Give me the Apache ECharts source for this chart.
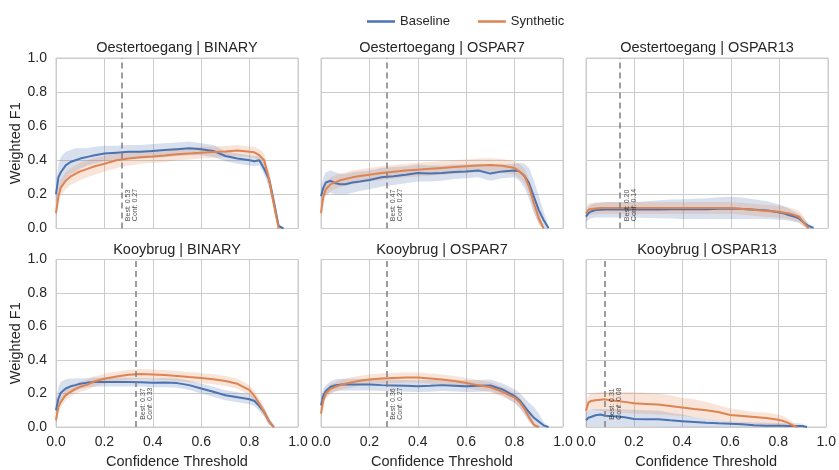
<!DOCTYPE html>
<html><head><meta charset="utf-8">
<script src="https://cdn.jsdelivr.net/npm/echarts@6/dist/echarts.min.js"></script>
<style>html,body{margin:0;padding:0;background:#fff}#c{width:839px;height:470px}</style>
</head><body><div id="c"></div>
<script>
// ---------------- DATA ----------------
const thresholds = [0, .01, .02, .04, .06, .08, .1, .13, .16, .2, .25, .3, .35, .4, .45, .5, .55, .6, .65, .7, .75, .8, .82, .84, .86, .88, .9, .92, .94, .96, 1];
const xTicks = [0, 0.2, 0.4, 0.6, 0.8, 1.0];
const yTicks = [0, 0.2, 0.4, 0.6, 0.8, 1.0];
const panelTitles = ['Oestertoegang | BINARY', 'Oestertoegang | OSPAR7', 'Oestertoegang | OSPAR13',
                     'Kooybrug | BINARY', 'Kooybrug | OSPAR7', 'Kooybrug | OSPAR13'];
const bestF1 = [0.53, 0.47, 0.20, 0.37, 0.36, 0.31];
const bestConf = [0.27, 0.27, 0.14, 0.33, 0.27, 0.08];
const seriesNames = ['Baseline', 'Synthetic'];

// Panel 1: Oestertoegang | BINARY
const p1BaseMean = [0.20,0.30,0.33,0.37,0.39,0.40,0.41,0.42,0.43,0.44,0.445,0.45,0.45,0.455,0.46,0.465,0.47,0.465,0.455,0.425,0.41,0.40,0.395,0.40,0.35,0.29,0.16,0.015,0,null,null];
const p1BaseLo   = [0.14,0.22,0.24,0.29,0.32,0.33,0.35,0.37,0.38,0.395,0.405,0.41,0.41,0.415,0.42,0.425,0.43,0.43,0.42,0.395,0.38,0.37,0.365,0.37,0.315,0.25,0.12,0,0,null,null];
const p1BaseHi   = [0.26,0.38,0.42,0.45,0.46,0.47,0.47,0.47,0.48,0.485,0.485,0.49,0.49,0.495,0.50,0.505,0.51,0.50,0.49,0.455,0.44,0.43,0.425,0.43,0.385,0.33,0.20,0.03,0,null,null];
const p1SynMean  = [0.09,0.19,0.24,0.28,0.305,0.32,0.335,0.35,0.365,0.38,0.40,0.41,0.418,0.422,0.428,0.435,0.44,0.445,0.448,0.452,0.458,0.45,0.447,0.43,0.40,0.29,0.145,0,null,null,null];
const p1SynLo    = [0.06,0.14,0.19,0.23,0.255,0.27,0.285,0.30,0.315,0.335,0.355,0.37,0.38,0.385,0.39,0.40,0.405,0.41,0.415,0.42,0.425,0.42,0.415,0.395,0.36,0.24,0.10,0,null,null,null];
const p1SynHi    = [0.12,0.24,0.29,0.33,0.355,0.37,0.385,0.40,0.415,0.425,0.445,0.45,0.456,0.46,0.466,0.47,0.475,0.48,0.481,0.484,0.49,0.48,0.479,0.465,0.44,0.34,0.19,0,null,null,null];

// Panel 2: Oestertoegang | OSPAR7
const p2BaseMean = [0.19,0.24,0.27,0.28,0.265,0.26,0.26,0.27,0.275,0.284,0.30,0.307,0.315,0.325,0.323,0.325,0.332,0.335,0.34,0.322,0.335,0.34,0.335,0.31,0.265,0.186,0.108,0.05,0.003,null,null];
const p2BaseLo   = [0.13,0.18,0.20,0.21,0.20,0.20,0.20,0.21,0.22,0.23,0.245,0.255,0.265,0.275,0.275,0.28,0.29,0.295,0.30,0.28,0.295,0.30,0.28,0.24,0.175,0.09,0.03,0,0,null,null];
const p2BaseHi   = [0.25,0.30,0.33,0.34,0.33,0.32,0.32,0.33,0.335,0.34,0.355,0.36,0.365,0.375,0.37,0.37,0.375,0.375,0.38,0.365,0.375,0.38,0.385,0.38,0.355,0.28,0.19,0.10,0.01,null,null];
const p2SynMean  = [0.09,0.19,0.23,0.26,0.272,0.283,0.29,0.30,0.308,0.315,0.325,0.333,0.34,0.345,0.35,0.355,0.36,0.365,0.37,0.372,0.368,0.355,0.335,0.31,0.245,0.147,0.06,0,null,null,null];
const p2SynLo    = [0.05,0.15,0.19,0.22,0.232,0.243,0.25,0.26,0.268,0.275,0.285,0.293,0.30,0.305,0.31,0.315,0.32,0.325,0.33,0.332,0.328,0.315,0.295,0.265,0.20,0.10,0.02,0,null,null,null];
const p2SynHi    = [0.13,0.23,0.27,0.30,0.312,0.323,0.33,0.34,0.348,0.355,0.365,0.373,0.38,0.385,0.39,0.395,0.40,0.405,0.41,0.412,0.408,0.395,0.375,0.355,0.29,0.19,0.10,0,null,null,null];

// Panel 3: Oestertoegang | OSPAR13
const p3BaseMean = [0.07,0.09,0.10,0.108,0.11,0.112,0.112,0.112,0.112,0.112,0.112,0.112,0.113,0.113,0.113,0.113,0.116,0.118,0.115,0.11,0.105,0.094,0.088,0.078,0.07,0.059,0.035,0.015,0.004,null,null];
const p3BaseLo   = [0.04,0.05,0.06,0.065,0.065,0.065,0.065,0.065,0.065,0.065,0.062,0.06,0.058,0.056,0.055,0.055,0.055,0.055,0.055,0.055,0.055,0.05,0.05,0.045,0.04,0.035,0.015,0,0,null,null];
const p3BaseHi   = [0.10,0.13,0.14,0.15,0.15,0.155,0.155,0.155,0.155,0.155,0.16,0.165,0.17,0.172,0.175,0.178,0.183,0.186,0.18,0.17,0.16,0.14,0.13,0.115,0.10,0.085,0.06,0.03,0.01,null,null];
const p3SynMean  = [0.088,0.11,0.115,0.118,0.12,0.12,0.12,0.12,0.12,0.12,0.12,0.12,0.12,0.12,0.12,0.12,0.12,0.12,0.115,0.108,0.103,0.098,0.093,0.088,0.08,0.069,0.035,0,null,null,null];
const p3SynLo    = [0.053,0.075,0.08,0.083,0.085,0.085,0.085,0.085,0.085,0.085,0.085,0.085,0.085,0.085,0.085,0.085,0.085,0.085,0.08,0.073,0.068,0.063,0.058,0.053,0.045,0.034,0.01,0,null,null,null];
const p3SynHi    = [0.123,0.145,0.15,0.153,0.155,0.155,0.155,0.155,0.155,0.155,0.155,0.155,0.155,0.155,0.155,0.155,0.155,0.155,0.15,0.143,0.138,0.133,0.128,0.123,0.115,0.104,0.07,0,null,null,null];

// Panel 4: Kooybrug | BINARY
const p4BaseMean = [0.10,0.17,0.205,0.23,0.243,0.25,0.258,0.265,0.268,0.269,0.268,0.268,0.267,0.264,0.265,0.262,0.25,0.23,0.21,0.19,0.178,0.166,0.155,0.125,0.09,0.035,0,null,null,null,null];
const p4BaseLo   = [0.04,0.11,0.15,0.18,0.20,0.215,0.228,0.238,0.24,0.242,0.242,0.242,0.242,0.238,0.238,0.235,0.222,0.20,0.18,0.16,0.148,0.136,0.125,0.095,0.065,0.015,0,null,null,null,null];
const p4BaseHi   = [0.16,0.24,0.27,0.285,0.29,0.29,0.29,0.292,0.295,0.296,0.295,0.294,0.293,0.29,0.292,0.29,0.278,0.26,0.24,0.22,0.208,0.196,0.185,0.155,0.115,0.055,0,null,null,null,null];
const p4SynMean  = [0.04,0.12,0.15,0.19,0.21,0.228,0.24,0.253,0.273,0.288,0.302,0.312,0.316,0.314,0.311,0.305,0.298,0.292,0.285,0.275,0.258,0.22,0.185,0.14,0.09,0.035,0,null,null,null,null];
const p4SynLo    = [0.02,0.09,0.12,0.16,0.18,0.198,0.21,0.223,0.243,0.258,0.272,0.282,0.286,0.284,0.281,0.275,0.268,0.262,0.255,0.245,0.228,0.19,0.155,0.11,0.06,0.01,0,null,null,null,null];
const p4SynHi    = [0.07,0.15,0.18,0.22,0.24,0.258,0.27,0.283,0.303,0.318,0.332,0.342,0.346,0.344,0.341,0.335,0.328,0.322,0.315,0.305,0.288,0.25,0.215,0.17,0.12,0.06,0,null,null,null,null];

// Panel 5: Kooybrug | OSPAR7
const p5BaseMean = [0.13,0.19,0.215,0.24,0.25,0.253,0.253,0.253,0.253,0.253,0.25,0.248,0.246,0.244,0.246,0.25,0.247,0.244,0.246,0.248,0.224,0.185,0.16,0.125,0.088,0.055,0.032,0.01,0,null,null];
const p5BaseLo   = [0.08,0.15,0.18,0.205,0.215,0.218,0.218,0.218,0.218,0.218,0.215,0.213,0.211,0.209,0.211,0.215,0.212,0.209,0.211,0.213,0.19,0.145,0.115,0.075,0.035,0.005,0,0,0,null,null];
const p5BaseHi   = [0.18,0.23,0.25,0.275,0.285,0.288,0.288,0.288,0.288,0.288,0.285,0.283,0.281,0.279,0.281,0.285,0.282,0.279,0.281,0.283,0.26,0.225,0.205,0.175,0.145,0.12,0.08,0.03,0,null,null];
const p5SynMean  = [0.08,0.16,0.20,0.228,0.24,0.25,0.258,0.268,0.276,0.283,0.289,0.292,0.295,0.296,0.29,0.284,0.274,0.263,0.25,0.237,0.21,0.175,0.15,0.11,0.058,0.012,0,null,null,null,null];
const p5SynLo    = [0.05,0.13,0.17,0.198,0.21,0.22,0.228,0.238,0.246,0.253,0.259,0.262,0.265,0.266,0.26,0.254,0.244,0.233,0.22,0.207,0.18,0.145,0.12,0.08,0.03,0,0,null,null,null,null];
const p5SynHi    = [0.11,0.19,0.23,0.258,0.27,0.28,0.288,0.298,0.306,0.313,0.319,0.322,0.325,0.326,0.32,0.314,0.304,0.293,0.28,0.267,0.24,0.205,0.18,0.14,0.088,0.03,0,null,null,null,null];

// Panel 6: Kooybrug | OSPAR13
const p6BaseMean = [0.04,0.055,0.06,0.07,0.075,0.067,0.065,0.062,0.058,0.048,0.047,0.046,0.04,0.035,0.03,0.025,0.022,0.02,0.017,0.01,0.008,0.007,0.007,0.006,0.006,0.006,0.006,0,null,null,null];
const p6BaseLo   = [0,0.005,0.005,0.005,0.005,0.005,0.005,0.005,0.004,0.003,0.003,0.003,0.002,0.002,0.002,0.002,0.001,0.001,0.001,0,0,0,0,0,0,0,0,0,null,null,null];
const p6BaseHi   = [0.08,0.10,0.105,0.107,0.107,0.107,0.107,0.106,0.105,0.103,0.10,0.098,0.085,0.075,0.06,0.05,0.04,0.033,0.03,0.027,0.025,0.024,0.023,0.023,0.023,0.022,0.02,0,null,null,null];
const p6SynMean  = [0.097,0.146,0.155,0.16,0.163,0.165,0.16,0.155,0.15,0.142,0.138,0.134,0.126,0.117,0.108,0.10,0.09,0.072,0.066,0.06,0.054,0.043,0.036,0.026,0.01,0,null,null,null,null,null];
const p6SynLo    = [0.06,0.10,0.105,0.10,0.095,0.092,0.09,0.088,0.085,0.08,0.078,0.075,0.07,0.065,0.06,0.05,0.04,0.03,0.025,0.02,0.015,0.01,0.008,0.005,0,0,null,null,null,null,null];
const p6SynHi    = [0.14,0.19,0.20,0.205,0.208,0.21,0.21,0.21,0.21,0.208,0.205,0.20,0.19,0.175,0.165,0.15,0.13,0.11,0.10,0.09,0.085,0.075,0.065,0.05,0.03,0,null,null,null,null,null];

// ---------------- BUILD ----------------
const panelData = [
  [[p1BaseMean,p1BaseLo,p1BaseHi],[p1SynMean,p1SynLo,p1SynHi]],
  [[p2BaseMean,p2BaseLo,p2BaseHi],[p2SynMean,p2SynLo,p2SynHi]],
  [[p3BaseMean,p3BaseLo,p3BaseHi],[p3SynMean,p3SynLo,p3SynHi]],
  [[p4BaseMean,p4BaseLo,p4BaseHi],[p4SynMean,p4SynLo,p4SynHi]],
  [[p5BaseMean,p5BaseLo,p5BaseHi],[p5SynMean,p5SynLo,p5SynHi]],
  [[p6BaseMean,p6BaseLo,p6BaseHi],[p6SynMean,p6SynLo,p6SynHi]]
];
const colors = ['#4c72b0', '#dd8452'];
const bandColors = ['rgba(76,114,176,0.22)', 'rgba(221,132,82,0.22)'];
const FONT = 'Liberation Sans, Arial, sans-serif';
const TXT = '#262626';
const GRID_C = '#cccccc';

const colLeft = [56, 321, 586];
const rowTop = [58, 259.5];
const W = 242, H = 170.5;

function bandRenderer(lo, hi, fill) {
  return function (params, api) {
    const pts = [];
    for (let i = 0; i < thresholds.length; i++) if (hi[i] != null) pts.push(api.coord([thresholds[i], hi[i]]));
    for (let i = thresholds.length - 1; i >= 0; i--) if (lo[i] != null) pts.push(api.coord([thresholds[i], lo[i]]));
    return {type: 'polygon', shape: {points: pts}, style: {fill: fill, stroke: 'none'}, silent: true};
  };
}

const grids = [], xAxes = [], yAxes = [], series = [], graphics = [];
for (let p = 0; p < 6; p++) {
  const r = Math.floor(p / 3), c = p % 3;
  grids.push({left: colLeft[c], top: rowTop[r], width: W, height: H, show: true,
              borderColor: GRID_C, borderWidth: 1, backgroundColor: 'transparent'});
  xAxes.push({type: 'value', gridIndex: p, min: 0, max: 1, interval: 0.2,
    axisLine: {show: false}, axisTick: {show: false},
    splitLine: {show: true, lineStyle: {color: GRID_C, width: 1}},
    axisLabel: {show: r === 1, color: TXT, fontSize: 14, fontFamily: FONT, margin: 8,
                showMinLabel: true, showMaxLabel: true, formatter: v => v.toFixed(1)},
    name: r === 1 ? 'Confidence Threshold' : '', nameLocation: 'middle', nameGap: 27,
    nameTextStyle: {color: TXT, fontSize: 14.5, fontFamily: FONT}});
  yAxes.push({type: 'value', gridIndex: p, min: 0, max: 1, interval: 0.2,
    axisLine: {show: false}, axisTick: {show: false},
    splitLine: {show: true, lineStyle: {color: GRID_C, width: 1}},
    axisLabel: {show: c === 0, color: TXT, fontSize: 14, fontFamily: FONT, margin: 9,
                formatter: v => v.toFixed(1)},
    name: c === 0 ? 'Weighted F1' : '', nameLocation: 'middle', nameGap: 31,
    nameTextStyle: {color: TXT, fontSize: 14.5, fontFamily: FONT}});
  graphics.push({type: 'text', x: colLeft[c] + W / 2, y: rowTop[r] - 10,
    style: {text: panelTitles[p], fill: TXT, font: '14.5px ' + FONT, textAlign: 'center', textVerticalAlign: 'middle'}});

  for (let s = 0; s < 2; s++) {
    const [mean, lo, hi] = panelData[p][s];
    series.push({type: 'custom', name: 'band', xAxisIndex: p, yAxisIndex: p,
      data: [[0, 0]], renderItem: bandRenderer(lo, hi, bandColors[s]), silent: true, z: 1});
  }
  for (let s = 0; s < 2; s++) {
    const mean = panelData[p][s][0];
    series.push({type: 'line', name: seriesNames[s], xAxisIndex: p, yAxisIndex: p,
      data: thresholds.map((x, i) => mean[i] == null ? null : [x, mean[i]]).filter(d => d),
      symbol: 'none', color: colors[s],
      lineStyle: {color: colors[s], width: 2}, z: 3 + s});
  }
  // best threshold marker + annotation
  series.push({type: 'scatter', name: 'best', xAxisIndex: p, yAxisIndex: p,
    data: [[bestConf[p], 0.04]], symbolSize: 1, itemStyle: {color: 'rgba(0,0,0,0)'}, z: 6, silent: true,
    label: {show: true, rotate: 90, align: 'left', verticalAlign: 'middle', position: [11, 0],
      formatter: 'Best: ' + bestF1[p].toFixed(2) + '\nConf: ' + bestConf[p].toFixed(2),
      fontSize: 7, lineHeight: 7, color: TXT, fontFamily: FONT},
    markLine: {silent: true, symbol: 'none', animation: false,
      lineStyle: {color: '#7f7f7f', type: [6, 4], width: 1.5},
      label: {show: false}, data: [{xAxis: bestConf[p]}]}});
}

const chart = echarts.init(document.getElementById('c'), null, {renderer: 'canvas'});
chart.setOption({
  animation: false,
  backgroundColor: '#ffffff',
  grid: grids, xAxis: xAxes, yAxis: yAxes, series: series, graphic: graphics,
  legend: {data: seriesNames, left: 362, top: 10, icon: 'rect', itemWidth: 28, itemHeight: 2.5,
    itemGap: 28, textStyle: {color: TXT, fontSize: 13, fontFamily: FONT}}
});
</script></body></html>
